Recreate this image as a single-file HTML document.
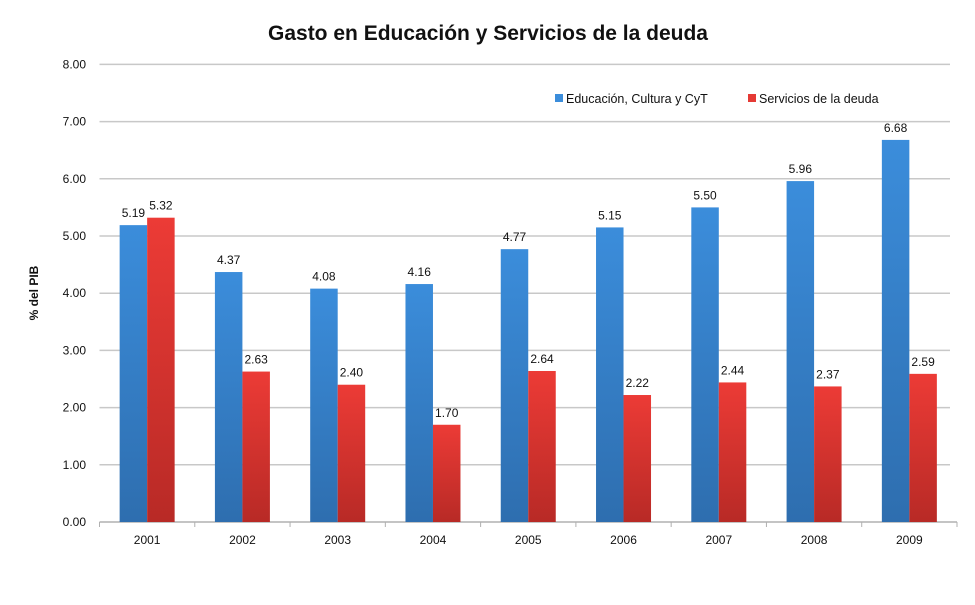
<!DOCTYPE html>
<html><head><meta charset="utf-8"><style>
body{margin:0;background:#fff;width:975px;height:600px;overflow:hidden}
svg text{font-family:"Liberation Sans",sans-serif}
</style></head><body>
<svg id="c" width="975" height="600">
<defs>
<linearGradient id="gb" x1="0" y1="0" x2="0" y2="1"><stop offset="0" stop-color="#3b8ddb"/><stop offset="1" stop-color="#2e6eaf"/></linearGradient>
<linearGradient id="gr" x1="0" y1="0" x2="0" y2="1"><stop offset="0" stop-color="#ec3b36"/><stop offset="1" stop-color="#b82a26"/></linearGradient>
</defs>
<text x="488" y="40" text-anchor="middle" font-size="21" font-weight="bold" fill="#111">Gasto en Educación y Servicios de la deuda</text>
<text transform="translate(38,293) rotate(-90)" text-anchor="middle" font-size="12" font-weight="bold" fill="#111">% del PIB</text>
<g id="grid"></g><g id="bars"></g>
<g>
<rect x="555" y="94" width="8" height="8" fill="#3b8ddb"/>
<text x="566" y="103" font-size="12.5" fill="#111">Educación, Cultura y CyT</text>
<rect x="748" y="94" width="8" height="8" fill="#e53a35"/>
<text x="759" y="103" font-size="12.5" fill="#111">Servicios de la deuda</text>
</g>
</svg>
<script>
const categories=["2001","2002","2003","2004","2005","2006","2007","2008","2009"];
const educacion=[5.19,4.37,4.08,4.16,4.77,5.15,5.50,5.96,6.68];
const deuda=[5.32,2.63,2.40,1.70,2.64,2.22,2.44,2.37,2.59];
const yTicks=[0,1,2,3,4,5,6,7,8];
const NS="http://www.w3.org/2000/svg";
const x0=99.5,x1=957,y0=522,yTop=64.4;
const y=v=>y0-(v/8)*(y0-yTop);
const band=(x1-x0)/categories.length;
const xc=i=>x0+band*(i+0.5);
function mk(t,a,p){const e=document.createElementNS(NS,t);for(const k in a)e.setAttribute(k,a[k]);p.appendChild(e);return e;}
const grid=document.getElementById('grid'),bars=document.getElementById('bars');
yTicks.forEach(v=>{
 if(v>0){const l=mk('line',{x1:x0,x2:950,y1:y(v),y2:y(v),stroke:'#c8c8c8','stroke-width':1.5},grid);
 
 }
 const t=mk('text',{x:86,y:y(v)+4,'text-anchor':'end','font-size':12,fill:'#111'},grid);t.textContent=v.toFixed(2);
 
 
});
const ax=mk('line',{x1:x0,x2:x1,y1:y0,y2:y0,stroke:'#b0b0b0','stroke-width':1.5},grid);


for(let i=0;i<=categories.length;i++){const tk=mk('line',{x1:x0+band*i,x2:x0+band*i,y1:y0,y2:y0+5,stroke:'#b0b0b0'},grid);
 
 }
const bw=27.5;
categories.forEach((c,i)=>{
 const cx=xc(i);
 const t=mk('text',{x:cx,y:y0+22,'text-anchor':'middle','font-size':12,fill:'#111'},bars);t.textContent=c;
 
 
 [[educacion,'url(#gb)',cx-bw,'bar-educacion'],[deuda,'url(#gr)',cx,'bar-deuda']].forEach(([s,f,bx,n])=>{
  const r=mk('rect',{x:bx,y:y(s[i]),width:bw,height:y0-y(s[i]),fill:f},bars);
  
  
  const l=mk('text',{x:bx+bw/2,y:y(s[i])-8,'text-anchor':'middle','font-size':12,fill:'#111'},bars);l.textContent=s[i].toFixed(2);
  
  
 });
});
</script>
</body></html>
